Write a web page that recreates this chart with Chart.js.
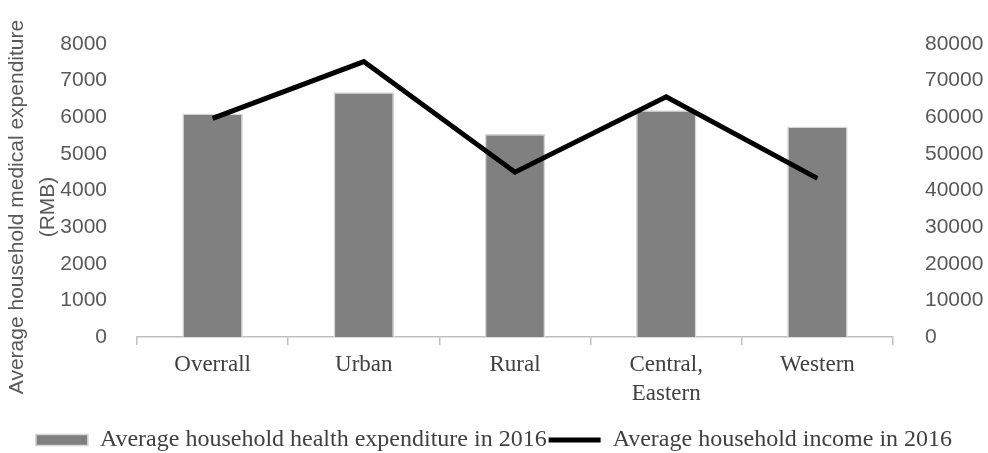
<!DOCTYPE html>
<html>
<head>
<meta charset="utf-8">
<script src="https://cdn.jsdelivr.net/npm/chart.js@4"></script>
<style>
  html, body { margin: 0; padding: 0; background: #fff; }
  #wrap { width: 988px; height: 453px; }
</style>
</head>
<body>
<div id="wrap"><canvas id="chart"></canvas></div>
<script>
// values
const categories = ["Overrall", "Urban", "Rural", ["Central,", "Eastern"], "Western"];
const healthExpenditure = [6100, 6680, 5540, 6190, 5750];
const householdIncome = [59700, 75200, 45000, 65600, 43300];
const expenditureTicks = [0, 1000, 2000, 3000, 4000, 5000, 6000, 7000, 8000];
const incomeTicks = [0, 10000, 20000, 30000, 40000, 50000, 60000, 70000, 80000];
const yTitle = ["Average household medical expenditure", "(RMB)"];

const SANS = "'Liberation Sans', Arial, sans-serif";
const SERIF = "'Liberation Serif', 'Times New Roman', serif";

// left axis title sits a bit lower than chart.js would centre it, so draw it by hand
const yTitlePlugin = {
    id: "yTitle",
    afterDraw(chart) {
        const c = chart.ctx;
        c.save();
        c.translate(0, 207);
        c.rotate(-Math.PI / 2);
        c.fillStyle = "#595959";
        c.font = "21px " + SANS;
        c.textAlign = "center";
        c.textBaseline = "middle";
        c.fillText(yTitle[0], 0, 17);
        c.fillText(yTitle[1], 0, 48);
        c.restore();
    },
};

const ctx = document.getElementById("chart").getContext("2d");

new Chart(ctx, {
    data: {
        labels: categories,
        datasets: [{
            type: "line",
            label: "Average household income in 2016",
            data: householdIncome,
            yAxisID: "y1",
            borderColor: "#000",
            backgroundColor: "#000",
            borderWidth: 5,
            pointRadius: 0,
            tension: 0,
            order: 0,
        }, {
            type: "bar",
            label: "Average household health expenditure in 2016",
            data: healthExpenditure,
            yAxisID: "y",
            backgroundColor: "#808080",
            borderColor: "#d6d6d6",
            borderWidth: 1.5,
            categoryPercentage: 1,
            barPercentage: 0.4,
            order: 1,
        }],
    },
    options: {
        responsive: true,
        maintainAspectRatio: false,
        animation: false,
        layout: { padding: { top: 44, bottom: -9, left: 0, right: 0 } },
        plugins: {
            tooltip: { enabled: false },
            legend: {
                position: "bottom",
                reverse: true,
                labels: {
                    usePointStyle: true,
                    pointStyleWidth: 52,
                    boxHeight: 11,
                    padding: 2,
                    color: "#404040",
                    font: { family: SERIF, size: 24 },
                    generateLabels(chart) {
                        return chart.data.datasets.map((ds, i) => ({
                            text: ds.label,
                            datasetIndex: i,
                            fillStyle: ds.type === "bar" ? "#808080" : "#000",
                            strokeStyle: ds.type === "bar" ? "#d6d6d6" : "#000",
                            lineWidth: ds.type === "bar" ? 1.5 : 5,
                            pointStyle: ds.type === "bar" ? "rect" : "line",
                            fontColor: "#404040",
                        }));
                    },
                },
            },
        },
        scales: {
            x: {
                afterFit(axis) { axis.height = 89; },
                grid: {
                    offset: true,
                    drawOnChartArea: false,
                    drawTicks: true,
                    tickLength: 8,
                    color: "#bfbfbf",
                    lineWidth: 1.5,
                },
                border: { color: "#bfbfbf", width: 1.5 },
                ticks: {
                    color: "#404040",
                    font: { family: SERIF, size: 23, lineHeight: 1.26 },
                    padding: 5,
                    maxRotation: 0,
                },
            },
            y: {
                position: "left",
                min: expenditureTicks[0],
                max: expenditureTicks[expenditureTicks.length - 1],
                afterBuildTicks(axis) { axis.ticks = expenditureTicks.map(v => ({ value: v })); },
                afterFit(axis) { axis.width = 137; },
                grid: { display: false },
                border: { display: false },
                ticks: {
                    color: "#595959",
                    font: { family: SANS, size: 21 },
                    padding: 22,
                    callback: v => String(v),
                },
            },
            y1: {
                position: "right",
                min: incomeTicks[0],
                max: incomeTicks[incomeTicks.length - 1],
                afterBuildTicks(axis) { axis.ticks = incomeTicks.map(v => ({ value: v })); },
                afterFit(axis) { axis.width = 95; },
                grid: { display: false },
                border: { display: false },
                ticks: {
                    color: "#595959",
                    font: { family: SANS, size: 21 },
                    padding: 24,
                    callback: v => String(v),
                },
            },
        },
    },
    plugins: [yTitlePlugin],
});
</script>
</body>
</html>
